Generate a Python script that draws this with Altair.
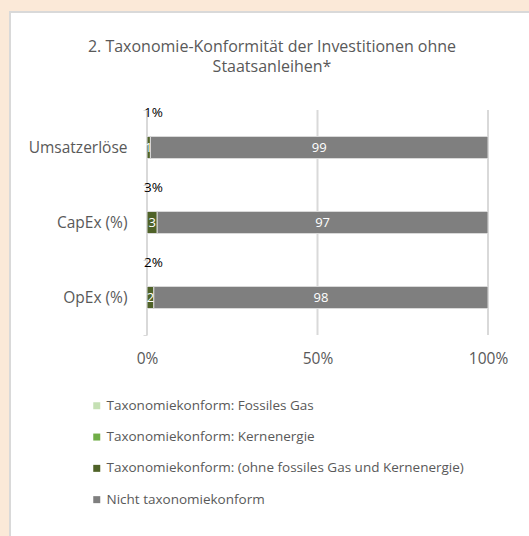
import altair as alt
import pandas as pd

categories = ["Umsatzerlöse", "CapEx (%)", "OpEx (%)"]
series = [
    "Taxonomiekonform: Fossiles Gas",
    "Taxonomiekonform: Kernenergie",
    "Taxonomiekonform: (ohne fossiles Gas und Kernenergie)",
    "Nicht taxonomiekonform",
]
colors = ["#c5e0b4", "#70ad47", "#4f6228", "#7f7f7f"]
fossil_gas = [0, 0, 0]
nuclear = [0, 0, 0]
aligned_other = [1, 3, 2]
not_aligned = [99, 97, 98]
total_labels = ["1%", "3%", "2%"]
title_lines = ["2. Taxonomie-Konformität der Investitionen ohne", "Staatsanleihen*"]
x_ticks = [0, 50, 100]

rows = []
for i, cat in enumerate(categories):
    start = 0
    for j, vals in enumerate([fossil_gas, nuclear, aligned_other, not_aligned]):
        v = vals[i]
        rows.append({"cat": cat, "series": series[j], "order": j, "value": v,
                     "start": start, "end": start + v, "mid": start + v / 2})
        start += v
df = pd.DataFrame(rows)
df_nz = df[df["value"] > 0]
df_tot = pd.DataFrame({"cat": categories, "label": total_labels})
df_grid = pd.DataFrame({"x": x_ticks})

FONT = "Open Sans"
GREY = "#595959"

yenc = alt.Y("cat:N", sort=categories, title=None,
             scale=alt.Scale(domain=categories, paddingInner=0, paddingOuter=0),
             axis=alt.Axis(labelFontSize=15.5, labelColor=GREY, labelFont=FONT,
                           labelPadding=16, domain=False, ticks=True, tickBand="extent",
                           tickSize=4, tickColor="#d9d9d9", grid=False, zindex=1))
xscale = alt.Scale(domain=[0, 100], nice=False)

panel = alt.Chart(pd.DataFrame({"a": [0]})).mark_rect(
    fill="white", stroke="#d9d9d9", strokeWidth=2
).encode(x=alt.value(-137), x2=alt.value(400), y=alt.value(-98), y2=alt.value(440))

title1 = alt.Chart(pd.DataFrame({"t": [title_lines[0]]})).mark_text(
    font=FONT, fontSize=16, color=GREY
).encode(text="t:N", x=alt.value(125), y=alt.value(-63))
title2 = alt.Chart(pd.DataFrame({"t": [title_lines[1]]})).mark_text(
    font=FONT, fontSize=16, color=GREY
).encode(text="t:N", x=alt.value(125), y=alt.value(-43))

grid = alt.Chart(df_grid).mark_rule(color="#d9d9d9", strokeWidth=2).encode(
    x=alt.X("x:Q", scale=xscale), y=alt.value(0), y2=alt.value(225)
)

bars = alt.Chart(df_nz).mark_bar(size=22, stroke="#d9d9d9", strokeWidth=1).encode(
    y=yenc,
    x=alt.X("start:Q", scale=xscale, title=None,
            axis=alt.Axis(values=x_ticks, labelExpr="datum.value + '%'",
                          labelFontSize=15.5, labelColor=GREY, labelFont=FONT,
                          labelPadding=16, labelFlush=False, domain=False, ticks=False,
                          grid=False, zindex=1)),
    x2="end:Q",
    color=alt.Color("series:N", scale=alt.Scale(domain=series, range=colors),
                    legend=alt.Legend(title=None, orient="none", legendX=-57, legendY=289,
                                      direction="vertical", symbolType="square",
                                      symbolSize=49, symbolStrokeWidth=0,
                                      labelFont=FONT, labelFontSize=13.5, labelColor=GREY,
                                      labelOffset=3, rowPadding=16.3, padding=0,
                                      labelLimit=500)),
    order=alt.Order("order:Q"),
)

vals = alt.Chart(df_nz).mark_text(font=FONT, fontSize=13, color="white").encode(
    y=alt.Y("cat:N", sort=categories),
    x=alt.X("mid:Q", scale=xscale),
    text="value:Q",
)

tots = alt.Chart(df_tot).mark_text(font=FONT, fontSize=13.5, color="black",
                                   align="left", dx=-3, dy=-35).encode(
    y=alt.Y("cat:N", sort=categories),
    x=alt.datum(0),
    text="label:N",
)

chart = alt.layer(panel, title1, title2, grid, bars, vals, tots).properties(
    width=341, height=225,
    autosize=alt.AutoSizeParams(type="none"),
    padding={"left": 147, "top": 110, "right": 41, "bottom": 201},
    background="#fbe9d8",
).configure_view(stroke=None)

chart.save("out.html", embed_options={"renderer": "svg", "actions": False})
